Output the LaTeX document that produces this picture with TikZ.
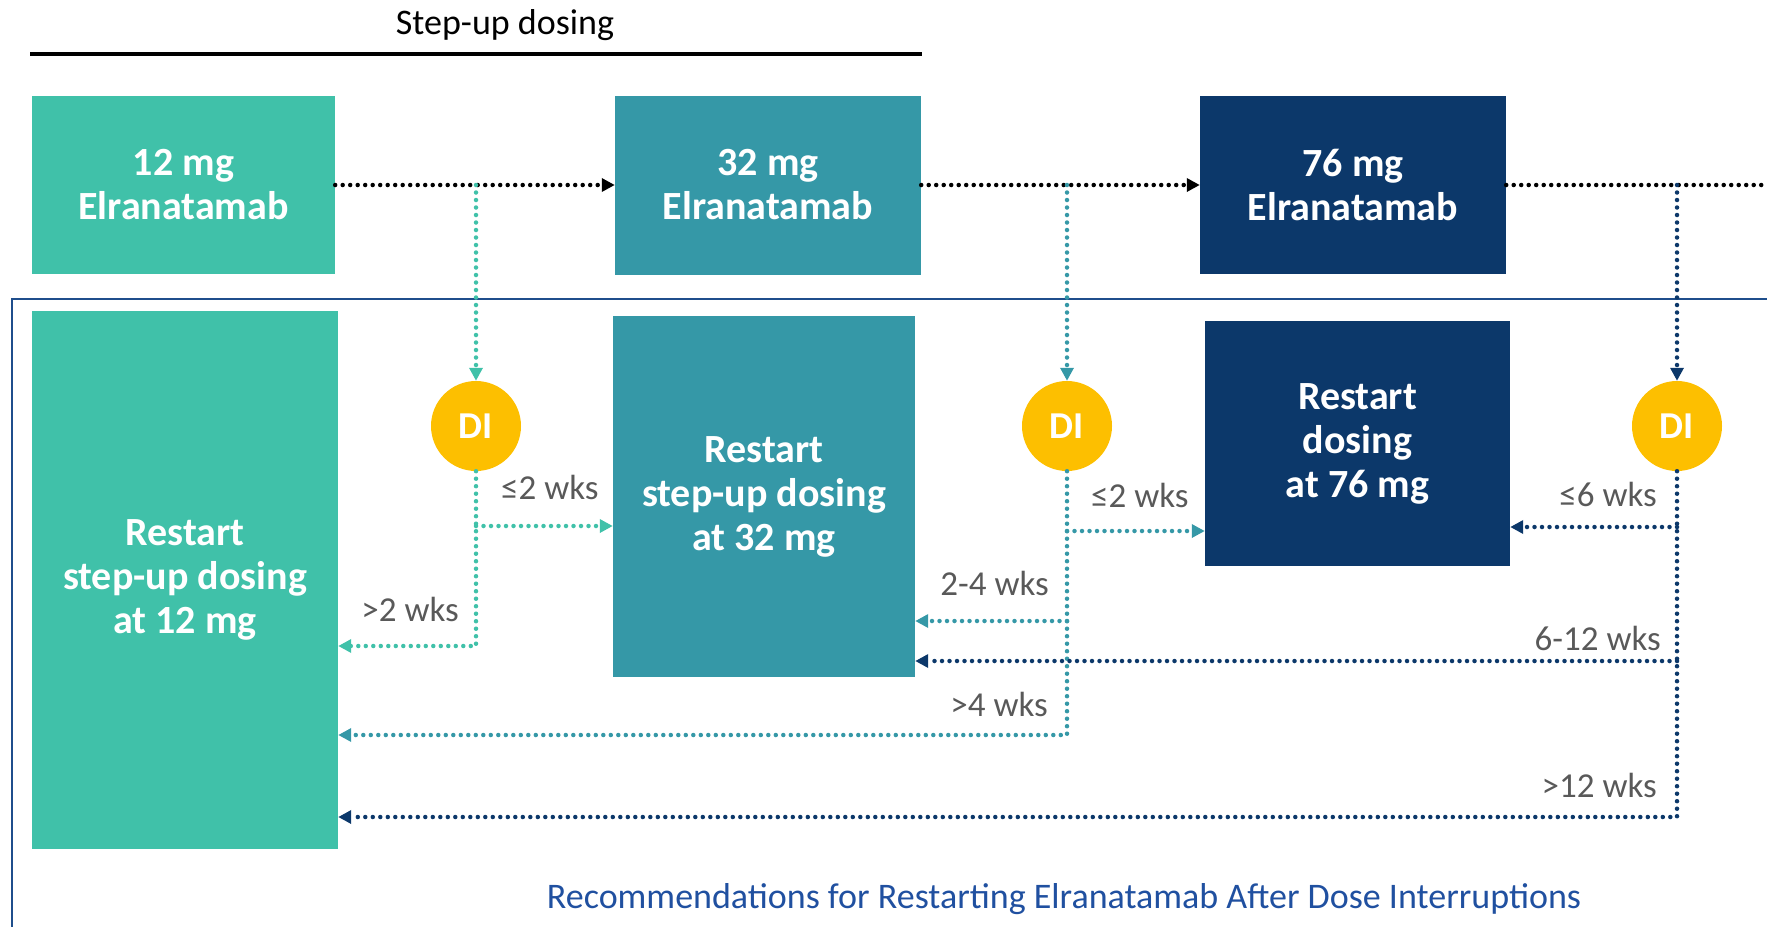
\documentclass[tikz,border=0pt]{standalone}
\usepackage{fontspec}
\setmainfont{Carlito}
\usetikzlibrary{arrows.meta}
\definecolor{cGreen}{HTML}{40C1A9}
\definecolor{cTeal}{HTML}{3598A7}
\definecolor{cNavy}{HTML}{0C386A}
\definecolor{cGold}{HTML}{FDBF00}
\definecolor{cGray}{HTML}{595959}
\definecolor{cFrame}{HTML}{1F4E8C}
\definecolor{cCap}{HTML}{2050A0}
\tikzset{
  box/.style={rectangle, inner sep=0pt, text=white, align=center,
    font=\fontsize{40}{44}\selectfont\bfseries},
  dinode/.style={circle, fill=cGold, minimum size=90pt, inner sep=0pt, text=white,
    font=\fontsize{38}{40}\selectfont\bfseries},
  lbl/.style={text=cGray, inner sep=0pt, font=\fontsize{35}{37}\selectfont},
  dotline/.style={line width=4.5pt, line cap=round, dash pattern=on 0pt off 7.5pt},
  tip/.style={-{Triangle[length=13pt,width=13pt]}},
}
\begin{document}
\begin{tikzpicture}[x=1pt,y=-1pt]
\useasboundingbox (0,0) rectangle (1767,927);
% header
\node[font=\fontsize{36}{38}\selectfont, inner sep=0pt] (hdr) at (505,25) {Step-up dosing};
\coordinate (hl) at (30,54);
\coordinate (hr) at (922,54);
\draw[line width=3.5pt] (hl) -- (hr);
% frame
\coordinate (fr) at (1767,299);
\coordinate (fc) at (12,299);
\coordinate (fb) at (12,927);
\draw[cFrame, line width=2pt] (fr) -- (fc) -- (fb);
% top boxes
\node[box, fill=cGreen, minimum width=303pt, minimum height=178pt] (B12) at (183.5,185) {12 mg\\Elranatamab};
\node[box, fill=cTeal, minimum width=306pt, minimum height=179pt] (B32) at (768,185) {32 mg\\Elranatamab};
\node[box, fill=cNavy, minimum width=306pt, minimum height=178pt] (B76) at (1353,185) {76 mg\\Elranatamab};
\coordinate (edge) at (1767,185);
% restart boxes
\node[box, fill=cGreen, minimum width=306pt, minimum height=538pt] (R12) at (185,580) {Restart\\step-up dosing\\at 12 mg};
\node[box, fill=cTeal, minimum width=302pt, minimum height=361pt] (R32) at (764,496.5) {Restart\\step-up dosing\\at 32 mg};
\node[box, fill=cNavy, minimum width=305pt, minimum height=245pt] (R76) at (1357.5,443.5) {Restart\\dosing\\at 76 mg};
% DI circles
\node[dinode] (DI1) at (476,426) {DI};
\node[dinode] (DI2) at (1067,426) {DI};
\node[dinode] (DI3) at (1677,426) {DI};
% top flow
\draw[dotline, tip, black] (B12.east) -- (B32.west);
\draw[dotline, tip, black] (B32.east) -- (B76.west);
\draw[dotline, black] (B76.east) -- (edge);
\draw[dotline, tip, cGreen] (DI1 |- B12.east) -- (DI1.north);
\draw[dotline, tip, cTeal] (DI2 |- B12.east) -- (DI2.north);
\draw[dotline, tip, cNavy] (DI3 |- B12.east) -- (DI3.north);
% branch levels
\coordinate (y526) at (0,526);
\coordinate (y646) at (0,646);
\coordinate (y531) at (0,531);
\coordinate (y621) at (0,621);
\coordinate (y735) at (0,735);
\coordinate (y527) at (0,527);
\coordinate (y661) at (0,661);
\coordinate (y817) at (0,817);
% DI1 branches
\draw[dotline, tip, cGreen] (DI1.south) |- (R12.east |- y646);
\draw[dotline, tip, cGreen] (DI1 |- y526) -- (R32.west |- y526);
% DI2 branches
\draw[dotline, tip, cTeal] (DI2.south) |- (R12.east |- y735);
\draw[dotline, tip, cTeal] (DI2 |- y621) -- (R32.east |- y621);
\draw[dotline, tip, cTeal] (DI2 |- y531) -- (R76.west |- y531);
% DI3 branches
\draw[dotline, tip, cNavy] (DI3.south) |- (R12.east |- y817);
\draw[dotline, tip, cNavy] (DI3 |- y661) -- (R32.east |- y661);
\draw[dotline, tip, cNavy] (DI3 |- y527) -- (R76.east |- y527);
% labels
\node[lbl, anchor=east] (l1) at (459,609) {>2 wks};
\node[lbl, anchor=west] (l2) at (501,487) {≤2 wks};
\node[lbl, anchor=east] (l3) at (1048,704) {>4 wks};
\node[lbl, anchor=east] (l4) at (1049,583) {2-4 wks};
\node[lbl, anchor=west] (l5) at (1091,495) {≤2 wks};
\node[lbl, anchor=east] (l6) at (1657,785) {>12 wks};
\node[lbl, anchor=east] (l7) at (1661,638) {6-12 wks};
\node[lbl, anchor=east] (l8) at (1657,494) {≤6 wks};
% caption
\node[text=cCap, inner sep=0pt, font=\fontsize{36}{38}\selectfont] (cap) at (1064,899) {Recommendations for Restarting Elranatamab After Dose Interruptions};
\end{tikzpicture}
\end{document}
